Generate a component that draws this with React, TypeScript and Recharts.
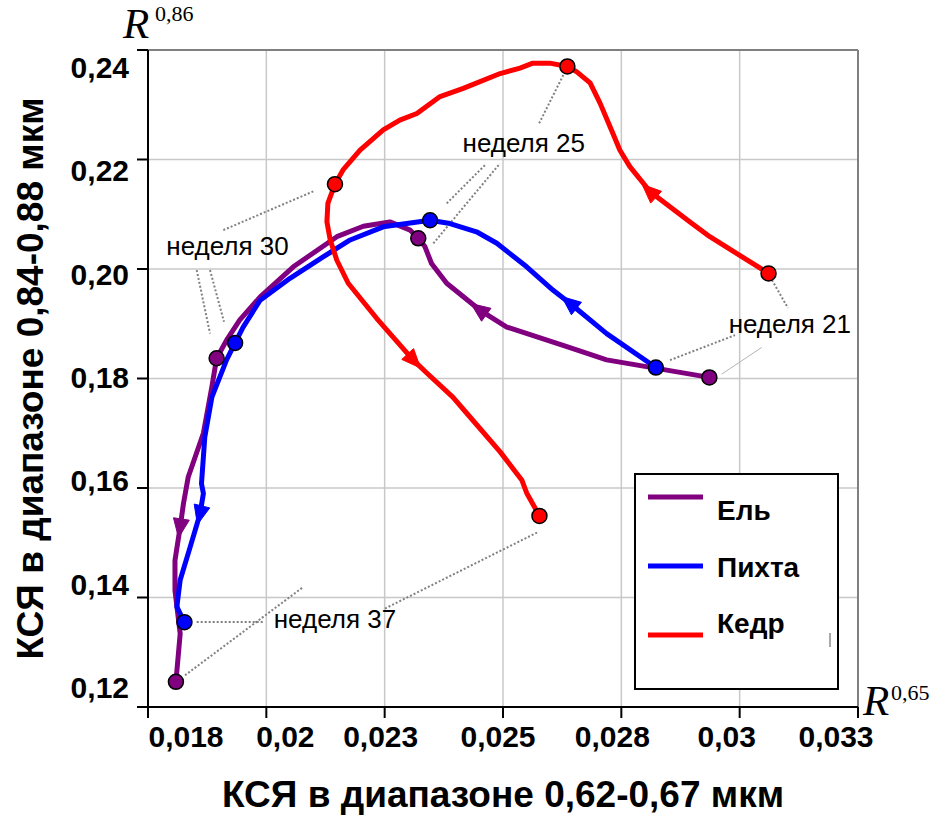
import React from "react";
import {
  ComposedChart,
  Line,
  Scatter,
  XAxis,
  YAxis,
  CartesianGrid,
  ReferenceLine,
  ReferenceDot,
} from "recharts";

const SANS = "'Liberation Sans', Arial, sans-serif";
const SERIF = "'Liberation Serif', 'Times New Roman', serif";

// axes
const xTicks = [0.0175, 0.02, 0.0225, 0.025, 0.0275, 0.03, 0.0325];
const xTickLabels = ["0,018", "0,02", "0,023", "0,025", "0,028", "0,03", "0,033"];
const yTicks = [0.12, 0.14, 0.16, 0.18, 0.2, 0.22, 0.24];
const yTickLabels = ["0,12", "0,14", "0,16", "0,18", "0,20", "0,22", "0,24"];

// Ель, weeks 21 -> 37 : [x, y]
const elPath = [
  [0.02936, 0.1802], [0.02719, 0.1834], [0.02635, 0.1858], [0.02508, 0.1894],
  [0.02451, 0.1925], [0.02381, 0.1974], [0.02349, 0.201], [0.02335, 0.2041],
  [0.02321, 0.2056], [0.02304, 0.2071], [0.02261, 0.2086], [0.02205, 0.2078],
  [0.02149, 0.2059], [0.02057, 0.2004], [0.01987, 0.1949], [0.01944, 0.1907],
  [0.01916, 0.187], [0.01895, 0.1837], [0.01885, 0.1785], [0.01867, 0.17],
  [0.01835, 0.162], [0.01825, 0.1572], [0.01818, 0.1529], [0.01807, 0.1468],
  [0.01807, 0.1413], [0.01818, 0.1334], [0.01809, 0.1246],
];
const elMarks = [0, 8, 17, 26];
const elArrows = [4, 22];

// Пихта
const pihtaPath = [
  [0.02823, 0.182], [0.02719, 0.1882], [0.02642, 0.1937], [0.02606, 0.1961],
  [0.0255, 0.2004], [0.02487, 0.2047], [0.02444, 0.2068], [0.02388, 0.2083],
  [0.02346, 0.2089], [0.02247, 0.2077], [0.02177, 0.2053], [0.0212, 0.2022],
  [0.0205, 0.1983], [0.01987, 0.1943], [0.01951, 0.1894], [0.01934, 0.1865],
  [0.01916, 0.1834], [0.01885, 0.1766], [0.0187, 0.1693], [0.01863, 0.1608],
  [0.01867, 0.159], [0.0186, 0.1553], [0.01839, 0.1492], [0.01818, 0.1432],
  [0.01811, 0.1383], [0.01827, 0.1355],
];
const pihtaMarks = [0, 8, 15, 25];
const pihtaArrows = [2, 21];

// Кедр
const kedrPath = [
  [0.03061, 0.1992], [0.02937, 0.2059], [0.02895, 0.2086], [0.02811, 0.2141],
  [0.02768, 0.2187], [0.02747, 0.2217], [0.02732, 0.2248], [0.02705, 0.2303],
  [0.02684, 0.234], [0.02656, 0.236], [0.02636, 0.237], [0.02599, 0.2376],
  [0.02563, 0.2376], [0.02536, 0.2367], [0.02494, 0.2357], [0.02416, 0.233],
  [0.02367, 0.2315], [0.02318, 0.2284], [0.02282, 0.2272], [0.02247, 0.2254],
  [0.02198, 0.2217], [0.02162, 0.2181], [0.02145, 0.2155], [0.0213, 0.212],
  [0.02128, 0.2086], [0.02135, 0.2053], [0.02149, 0.2016], [0.02173, 0.1974],
  [0.02233, 0.191], [0.0231, 0.1834], [0.02339, 0.181], [0.02394, 0.1766],
  [0.02423, 0.1737], [0.02494, 0.1666], [0.0254, 0.1614], [0.0255, 0.1591],
  [0.02577, 0.1549],
];
const kedrMarks = [0, 10, 22, 36];
const kedrArrows = [3, 29];

// week annotations
const weekLabels = ["неделя 21", "неделя 25", "неделя 30", "неделя 37"];
const weekLabelX = [0.03106, 0.02544, 0.01918, 0.02145];
const weekLabelY = [0.19, 0.2231, 0.2042, 0.1361];

// dotted leader lines [x1, y1, x2, y2]
const leaders = [
  [0.030599, 0.199251, 0.031021, 0.192856],
  [0.028528, 0.183354, 0.029902, 0.187922],
  [0.026274, 0.235432, 0.025746, 0.226295],
  [0.023811, 0.211987, 0.02462, 0.218986],
  [0.023528, 0.204678, 0.024937, 0.219297],
  [0.019091, 0.207109, 0.021007, 0.214235],
  [0.018529, 0.1998, 0.01881, 0.188231],
  [0.01881, 0.1998, 0.019106, 0.190352],
  [0.018529, 0.135534, 0.019936, 0.135534],
  [0.018282, 0.125794, 0.020781, 0.141929],
  [0.022507, 0.137981, 0.025746, 0.151978],
];
const thinLeader = [0.02962, 0.180795, 0.030466, 0.185674];

const toPts = (arr: number[][]) => arr.map(([x, y]) => ({ x, y }));

const series = [
  { name: "Ель", color: "#800080", path: elPath, marks: elMarks, arrows: elArrows },
  { name: "Пихта", color: "#0000ff", path: pihtaPath, marks: pihtaMarks, arrows: pihtaArrows },
  { name: "Кедр", color: "#ff0000", path: kedrPath, marks: kedrMarks, arrows: kedrArrows },
];

const xLabelShift = [38, 19, -4, -5, -9, -13, -22];

const XTick = (p: any) => {
  const i = xTicks.findIndex((v) => Math.abs(v - p.payload.value) < 1e-9);
  return (
    <text
      x={p.x + xLabelShift[i]}
      y={p.y + 27}
      textAnchor="middle"
      fontFamily={SANS}
      fontWeight="bold"
      fontSize={30}
      fill="#000"
    >
      {xTickLabels[i]}
    </text>
  );
};

const YTick = (p: any) => {
  const i = yTicks.findIndex((v) => Math.abs(v - p.payload.value) < 1e-9);
  return (
    <text
      x={p.x}
      y={p.y - 20 + 6.2 * i}
      dy="0.36em"
      textAnchor="end"
      fontFamily={SANS}
      fontWeight="bold"
      fontSize={30}
      fill="#000"
    >
      {yTickLabels[i]}
    </text>
  );
};

// arrow heads drawn on chosen vertices of a line
const makeArrowDot = (color: string, arrowIdx: number[]) => {
  const seen: { x: number; y: number }[] = [];
  return (p: any) => {
    const { cx, cy, index } = p;
    seen[index] = { x: cx, y: cy };
    if (!arrowIdx.includes(index)) return <g key={`d-${index}`} />;
    const pts = p.points;
    const prev = pts ? pts[index - 1] : seen[index - 1];
    const next = pts ? pts[index + 1] : null;
    const a = next
      ? Math.atan2(next.y - prev.y, next.x - prev.x)
      : Math.atan2(cy - prev.y, cx - prev.x);
    const c = Math.cos(a);
    const s = Math.sin(a);
    const tip = [cx + 11 * c, cy + 11 * s];
    const b1 = [cx - 8 * c - 8 * s, cy - 8 * s + 8 * c];
    const b2 = [cx - 8 * c + 8 * s, cy - 8 * s - 8 * c];
    return (
      <polygon
        key={`d-${index}`}
        points={`${tip.join(",")} ${b1.join(",")} ${b2.join(",")}`}
        fill={color}
        stroke={color}
        strokeWidth={1}
      />
    );
  };
};

const LegendBox = () => (
  <svg
    width={205}
    height={217}
    style={{ position: "absolute", left: 634, top: 473 }}
  >
    <rect x={1} y={1} width={203} height={215} fill="#fff" stroke="#000" strokeWidth={2} />
    {[
      { line: 24, text: 47 },
      { line: 93, text: 104 },
      { line: 162, text: 160 },
    ].map((r, i) => (
      <g key={series[i].name}>
        <line x1={14} x2={69} y1={r.line} y2={r.line} stroke={series[i].color} strokeWidth={5} />
        <text x={83} y={r.text} fontFamily={SANS} fontWeight="bold" fontSize={28} fill="#000">
          {series[i].name}
        </text>
      </g>
    ))}
    <line x1={196} x2={196} y1={160} y2={174} stroke="#555" strokeWidth={1} />
  </svg>
);

export default function App() {
  return (
    <div style={{ position: "fixed", left: 0, top: 0, width: 933, height: 821, background: "#fff" }}>
      <ComposedChart
        width={933}
        height={821}
        margin={{ top: 50, right: 75, left: 0, bottom: 0 }}
      >
        <CartesianGrid stroke="#c8c8c8" strokeWidth={1.5} />
        <XAxis
          type="number"
          dataKey="x"
          domain={[0.0175, 0.0325]}
          ticks={xTicks}
          interval={0}
          allowDataOverflow
          height={114}
          tickSize={11}
          axisLine={{ stroke: "#000", strokeWidth: 2 }}
          tickLine={{ stroke: "#000", strokeWidth: 2 }}
          tick={XTick}
          label={{
            value: "КСЯ в диапазоне 0,62-0,67 мкм",
            position: "insideBottom",
            offset: 14,
            fontFamily: SANS,
            fontWeight: "bold",
            fontSize: 37,
            fill: "#000",
          }}
        />
        <YAxis
          type="number"
          dataKey="y"
          domain={[0.12, 0.24]}
          ticks={yTicks}
          interval={0}
          allowDataOverflow
          width={148}
          tickSize={11}
          tickMargin={8}
          axisLine={{ stroke: "#000", strokeWidth: 2 }}
          tickLine={{ stroke: "#000", strokeWidth: 2 }}
          tick={YTick}
          label={{
            value: "КСЯ в диапазоне 0,84-0,88 мкм",
            angle: -90,
            position: "insideLeft",
            offset: 30,
            style: { textAnchor: "middle" },
            fontFamily: SANS,
            fontWeight: "bold",
            fontSize: 37,
            fill: "#000",
          }}
        />
        <ReferenceLine y={0.24} stroke="#808080" strokeWidth={2} />
        <ReferenceLine x={0.0325} stroke="#808080" strokeWidth={2} />

        {leaders.map((l, i) => (
          <ReferenceLine
            key={`ld-${i}`}
            segment={[{ x: l[0], y: l[1] }, { x: l[2], y: l[3] }]}
            stroke="#808080"
            strokeWidth={2}
            strokeDasharray="2 2"
          />
        ))}
        <ReferenceLine
          segment={[{ x: thinLeader[0], y: thinLeader[1] }, { x: thinLeader[2], y: thinLeader[3] }]}
          stroke="#b4b4b4"
          strokeWidth={1}
        />

        {series.map((s) => (
          <Line
            key={s.name}
            name={s.name}
            data={toPts(s.path)}
            dataKey="y"
            type="linear"
            stroke={s.color}
            strokeWidth={5}
            strokeLinejoin="round"
            dot={makeArrowDot(s.color, s.arrows)}
            activeDot={false}
            isAnimationActive={false}
          />
        ))}
        {series.map((s) => (
          <Scatter
            key={`m-${s.name}`}
            data={toPts(s.path.filter((_, i) => s.marks.includes(i)))}
            fill={s.color}
            isAnimationActive={false}
            shape={(p: any) => (
              <circle cx={p.cx} cy={p.cy} r={7.5} fill={s.color} stroke="#000" strokeWidth={1.5} />
            )}
          />
        ))}

        {weekLabels.map((t, i) => (
          <ReferenceDot
            key={t}
            x={weekLabelX[i]}
            y={weekLabelY[i]}
            r={0}
            fill="none"
            stroke="none"
            label={{
              value: t,
              position: "center",
              fontFamily: SANS,
              fontSize: 26,
              fill: "#000",
            }}
          />
        ))}
      </ComposedChart>

      <LegendBox />

      <svg
        width={933}
        height={821}
        style={{ position: "absolute", left: 0, top: 0, pointerEvents: "none" }}
      >
        <text x={123} y={38} fontFamily={SERIF} fontStyle="italic" fontSize={43} fill="#000">
          R
        </text>
        <text x={155} y={21} fontFamily={SERIF} fontSize={22} fill="#000">
          0,86
        </text>
        <text x={863} y={715} fontFamily={SERIF} fontStyle="italic" fontSize={43} fill="#000">
          R
        </text>
        <text x={891} y={700} fontFamily={SERIF} fontSize={22} fill="#000">
          0,65
        </text>
      </svg>
    </div>
  );
}
